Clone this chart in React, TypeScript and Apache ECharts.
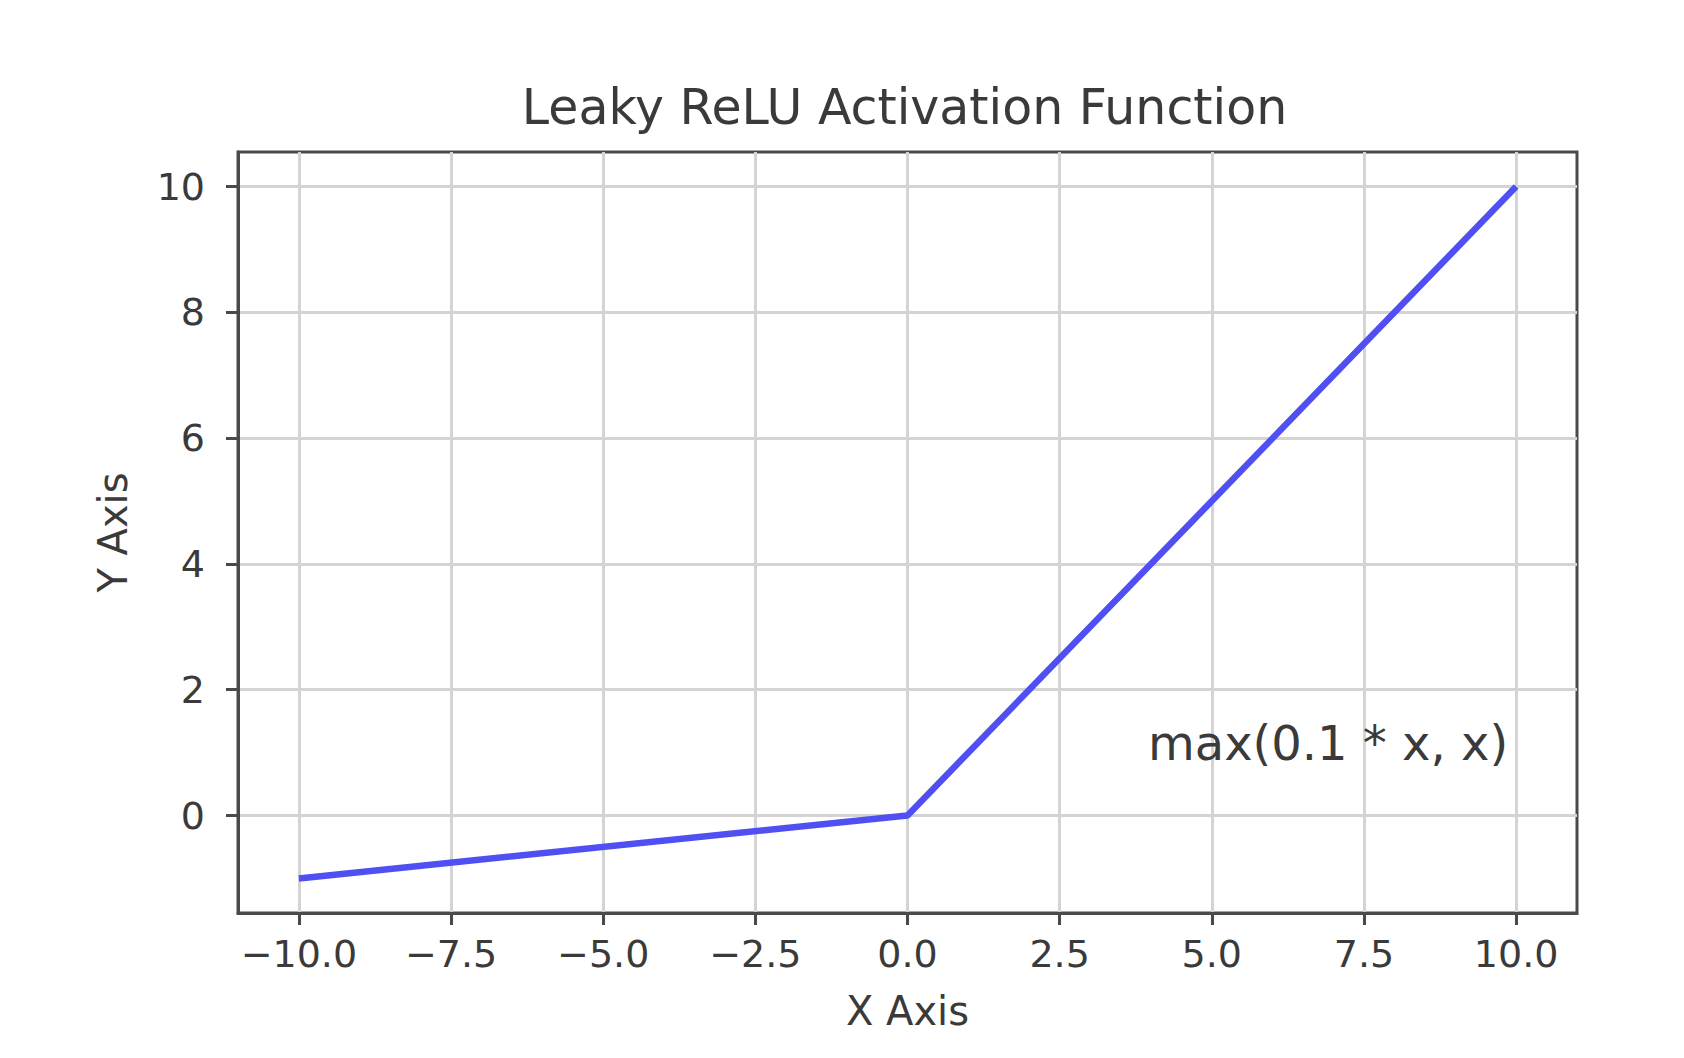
import React, { useEffect, useRef } from "react";
import * as echarts from "echarts";

const titleText = "Leaky ReLU Activation Function";
const xName = "X Axis";
const yName = "Y Axis";
const annotationText = "max(0.1 * x, x)";
const annotationPos = [4, 1];

const xValues = [-10, 0, 10];
const yValues = [-1, 0, 10];

const xTicks = [-10, -7.5, -5, -2.5, 0, 2.5, 5, 7.5, 10];
const yTicks = [0, 2, 4, 6, 8, 10];

const xRange = [-11, 11];
const yRange = [-1.55, 10.55];

const FONT = "DejaVu Sans";
const TEXT = "#3a3a3a";

const fmtX = (v: number) => v.toFixed(1).replace("-", "\u2212");
const fmtY = (v: number) => String(v).replace("-", "\u2212");

export default function App() {
  const ref = useRef<HTMLDivElement>(null);
  useEffect(() => {
    const chart = echarts.init(ref.current!, null, { renderer: "svg" });
    const grid = { left: 238, right: 107, top: 152, bottom: 145 };
    chart.setOption({
      animation: false,
      backgroundColor: "#ffffff",
      textStyle: { fontFamily: FONT },
      graphic: [
        {
          type: "text",
          x: (grid.left + 1684 - grid.right) / 2 - 3,
          y: 107,
          style: {
            text: titleText,
            fontFamily: FONT,
            fontSize: 49,
            fill: TEXT,
            textAlign: "center",
            textVerticalAlign: "middle",
          },
        },
      ],
      grid: {
        ...grid,
        show: true,
        borderColor: "#4a4a4a",
        borderWidth: 3,
        backgroundColor: "transparent",
      },
      xAxis: {
        type: "value",
        min: xRange[0],
        max: xRange[1],
        name: xName,
        nameLocation: "middle",
        nameGap: 78,
        nameTextStyle: { fontSize: 40, color: TEXT, fontFamily: FONT },
        axisLine: { show: true, onZero: false, lineStyle: { color: "#4a4a4a", width: 3 } },
        axisTick: {
          show: true,
          customValues: xTicks,
          length: 12,
          lineStyle: { color: "#4a4a4a", width: 3 },
        },
        axisLabel: {
          customValues: xTicks,
          formatter: (v: number) => fmtX(v),
          fontSize: 38,
          color: TEXT,
          fontFamily: FONT,
          margin: 22,
        },
        splitLine: { show: true, lineStyle: { color: "#d4d4d4", width: 3 } },
      },
      yAxis: {
        type: "value",
        min: yRange[0],
        max: yRange[1],
        name: yName,
        nameLocation: "middle",
        nameGap: 105,
        nameTextStyle: { fontSize: 40, color: TEXT, fontFamily: FONT },
        axisLine: { show: true, onZero: false, lineStyle: { color: "#4a4a4a", width: 3 } },
        axisTick: {
          show: true,
          customValues: yTicks,
          length: 12,
          lineStyle: { color: "#4a4a4a", width: 3 },
        },
        axisLabel: {
          customValues: yTicks,
          formatter: (v: number) => fmtY(v),
          fontSize: 38,
          color: TEXT,
          fontFamily: FONT,
          margin: 33,
        },
        splitLine: { show: true, lineStyle: { color: "#d4d4d4", width: 3 } },
      },
      series: [
        {
          type: "line",
          data: xValues.map((x, i) => [x, yValues[i]]),
          showSymbol: false,
          lineStyle: { color: "#4f4ff2", width: 6.5 },
          itemStyle: { color: "#4f4ff2" },
          markPoint: {
            symbol: "circle",
            symbolSize: 0,
            data: [
              {
                coord: annotationPos,
                label: {
                  show: true,
                  formatter: annotationText,
                  position: "inside",
                  align: "left",
                  verticalAlign: "middle",
                  offset: [-3, -10],
                  fontSize: 48,
                  color: TEXT,
                  fontFamily: FONT,
                },
              },
            ],
          },
        },
      ],
    });
    return () => chart.dispose();
  }, []);
  return (
    <div
      ref={ref}
      style={{ position: "fixed", left: 0, top: 0, width: 1684, height: 1058 }}
    />
  );
}
